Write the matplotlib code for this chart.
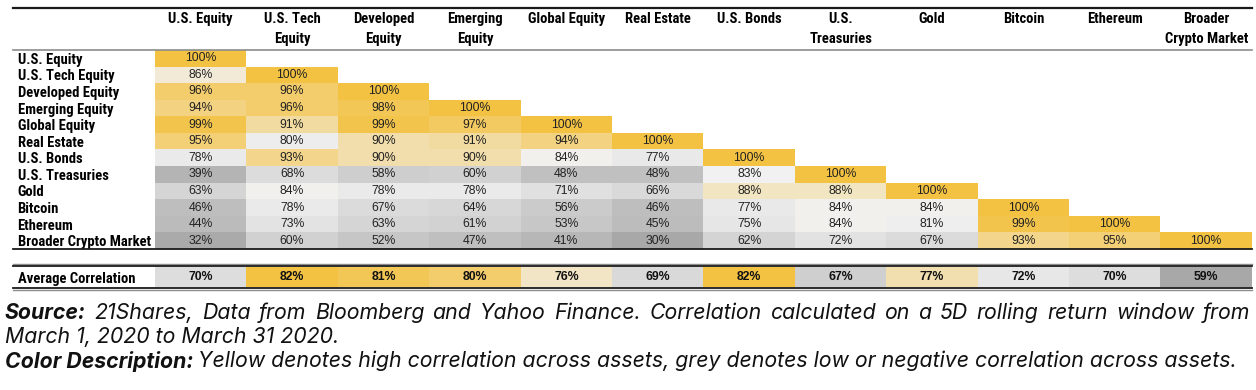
import numpy as np
import matplotlib
matplotlib.use("Agg")
import matplotlib.pyplot as plt
from matplotlib import font_manager
from matplotlib.colors import LinearSegmentedColormap, TwoSlopeNorm
from matplotlib.lines import Line2D

assets = ["U.S. Equity", "U.S. Tech Equity", "Developed Equity", "Emerging Equity",
          "Global Equity", "Real Estate", "U.S. Bonds", "U.S. Treasuries", "Gold",
          "Bitcoin", "Ethereum", "Broader Crypto Market"]
col_labels = ["U.S. Equity", "U.S. Tech\nEquity", "Developed\nEquity", "Emerging\nEquity",
              "Global Equity", "Real Estate", "U.S. Bonds", "U.S.\nTreasuries", "Gold",
              "Bitcoin", "Ethereum", "Broader\nCrypto Market"]

# lower triangle of the correlation matrix, in percent
corr_rows = [
    [100],
    [86, 100],
    [96, 96, 100],
    [94, 96, 98, 100],
    [99, 91, 99, 97, 100],
    [95, 80, 90, 91, 94, 100],
    [78, 93, 90, 90, 84, 77, 100],
    [39, 68, 58, 60, 48, 48, 83, 100],
    [63, 84, 78, 78, 71, 66, 88, 88, 100],
    [46, 78, 67, 64, 56, 46, 77, 84, 84, 100],
    [44, 73, 63, 61, 53, 45, 75, 84, 81, 99, 100],
    [32, 60, 52, 47, 41, 30, 62, 72, 67, 93, 95, 100],
]
avg_corr = [70, 82, 81, 80, 76, 69, 82, 67, 77, 72, 70, 59]

source_bold = "Source:"
source_line1 = "21Shares, Data from Bloomberg and Yahoo Finance. Correlation calculated on a 5D rolling return window from"
source_line2 = "March 1, 2020 to March 31 2020."
color_bold = "Color Description:"
color_text = "Yellow denotes high correlation across assets, grey denotes low or negative correlation across assets."

faces = {(f.name, f.style) for f in font_manager.fontManager.ttflist}


def pick(cands, style="normal"):
    for c in cands:
        if (c, style) in faces:
            return c
    return "DejaVu Sans"


narrow = pick(["Roboto Condensed", "Archivo Narrow", "PT Sans Narrow",
               "Liberation Sans Narrow", "Roboto"])
plain = pick(["Liberation Sans", "Roboto"])
note = pick(["Inter", "Roboto"], "italic")

n = len(assets)
mat = np.full((n, n), np.nan)
for i, row in enumerate(corr_rows):
    mat[i, :len(row)] = row
vals = mat[~np.isnan(mat)]

cmap = LinearSegmentedColormap.from_list("gy", ["#a8a8a8", "#f2f2f2", "#f4c242"])
cmap.set_bad("white")

W, H = 1256, 390
fig = plt.figure(figsize=(W / 100, H / 100), dpi=100)
fig.canvas.draw()
rend = fig.canvas.get_renderer()


def fx(px):
    return px / W


def fy(py):
    return 1 - py / H


def width(t):
    return t.get_window_extent(rend).width


# size the bold labels so the longest one fits the label column
probe = fig.text(0, 0, "Broader Crypto Market", family=narrow, fontweight="bold", fontsize=10)
lab_fs = min(10.5, 10 * 134 / width(probe))
probe.remove()

# matrix
ax = fig.add_axes([fx(155), fy(249), fx(1252) - fx(155), fy(50) - fy(249)])
norm = TwoSlopeNorm(vmin=vals.min(), vcenter=np.median(vals), vmax=vals.max())
ax.imshow(np.ma.masked_invalid(mat), cmap=cmap, norm=norm, aspect="auto",
          interpolation="nearest")
for i in range(n):
    for j in range(n):
        if not np.isnan(mat[i, j]):
            ax.text(j, i, f"{int(mat[i, j])}%", ha="center", va="center",
                    fontsize=8.8, family=plain, color="#222222")
ax.set_xticks([])
ax.set_yticks(range(n))
ax.set_yticklabels(assets, ha="left", family=narrow, fontsize=lab_fs, fontweight="bold")
ax.tick_params(axis="y", length=0, pad=99)
for s in ax.spines.values():
    s.set_visible(False)
for j, lab in enumerate(col_labels):
    ax.text(j, 1.19, lab, transform=ax.get_xaxis_transform(), ha="center", va="top",
            family=narrow, fontsize=lab_fs, fontweight="bold", linespacing=1.5)

# average row
ax2 = fig.add_axes([fx(155), fy(287), fx(1252) - fx(155), fy(267) - fy(287)])
avg = np.array(avg_corr, dtype=float)
norm2 = TwoSlopeNorm(vmin=avg.min(), vcenter=np.median(avg), vmax=avg.max())
ax2.imshow(avg[None, :], cmap=cmap, norm=norm2, aspect="auto", interpolation="nearest")
for j, v in enumerate(avg_corr):
    ax2.text(j, 0, f"{v}%", ha="center", va="center", fontsize=8.8, family=plain,
             fontweight="bold", color="#111111")
ax2.set_xticks([])
ax2.set_yticks([0])
ax2.set_yticklabels(["Average Correlation"], ha="left", family=narrow, fontsize=lab_fs,
                    fontweight="bold")
ax2.tick_params(axis="y", length=0, pad=99)
for s in ax2.spines.values():
    s.set_visible(False)


# table rules
def hline(py, color, lw):
    fig.add_artist(Line2D([fx(13), fx(1252)], [fy(py), fy(py)], color=color, lw=lw))


hline(8, "#1a1a1a", 1.6)
hline(50, "#8c8c8c", 1.2)
hline(249.5, "#1a1a1a", 1.3)
hline(264, "#8c8c8c", 1.0)
hline(266, "#1a1a1a", 1.3)
hline(287.5, "#1a1a1a", 1.3)
hline(289.5, "#8c8c8c", 1.0)

# footnote: font size from the second line, first line justified
probe = fig.text(0, 0, source_line2, family=note, style="italic", fontsize=13)
fs = 13 * 419 / width(probe)
probe.remove()
probe = fig.text(0, 0, color_bold + " " + color_text, family=note, style="italic", fontsize=fs)
w_all = width(probe)
probe.remove()
if w_all > 1227:
    fs = fs * 1227 / w_all

kw = dict(family=note, style="italic", fontsize=fs, va="center", color="#111111")
words = [(source_bold, "bold")] + [(w, "normal") for w in source_line1.split()]
texts = [fig.text(0, fy(313), w, fontweight=wt, **kw) for w, wt in words]
widths = [width(t) for t in texts]
gap = (1245 - sum(widths)) / (len(texts) - 1)
x = 5
for t, w in zip(texts, widths):
    t.set_x(fx(x))
    x += w + gap

fig.text(fx(5), fy(337), source_line2, **kw)
t3 = fig.text(fx(5), fy(361), color_bold, fontweight="bold", **kw)
fig.text(fx(5 + width(t3) + 5), fy(361), color_text, **kw)

fig.savefig("out.png", dpi=100)
